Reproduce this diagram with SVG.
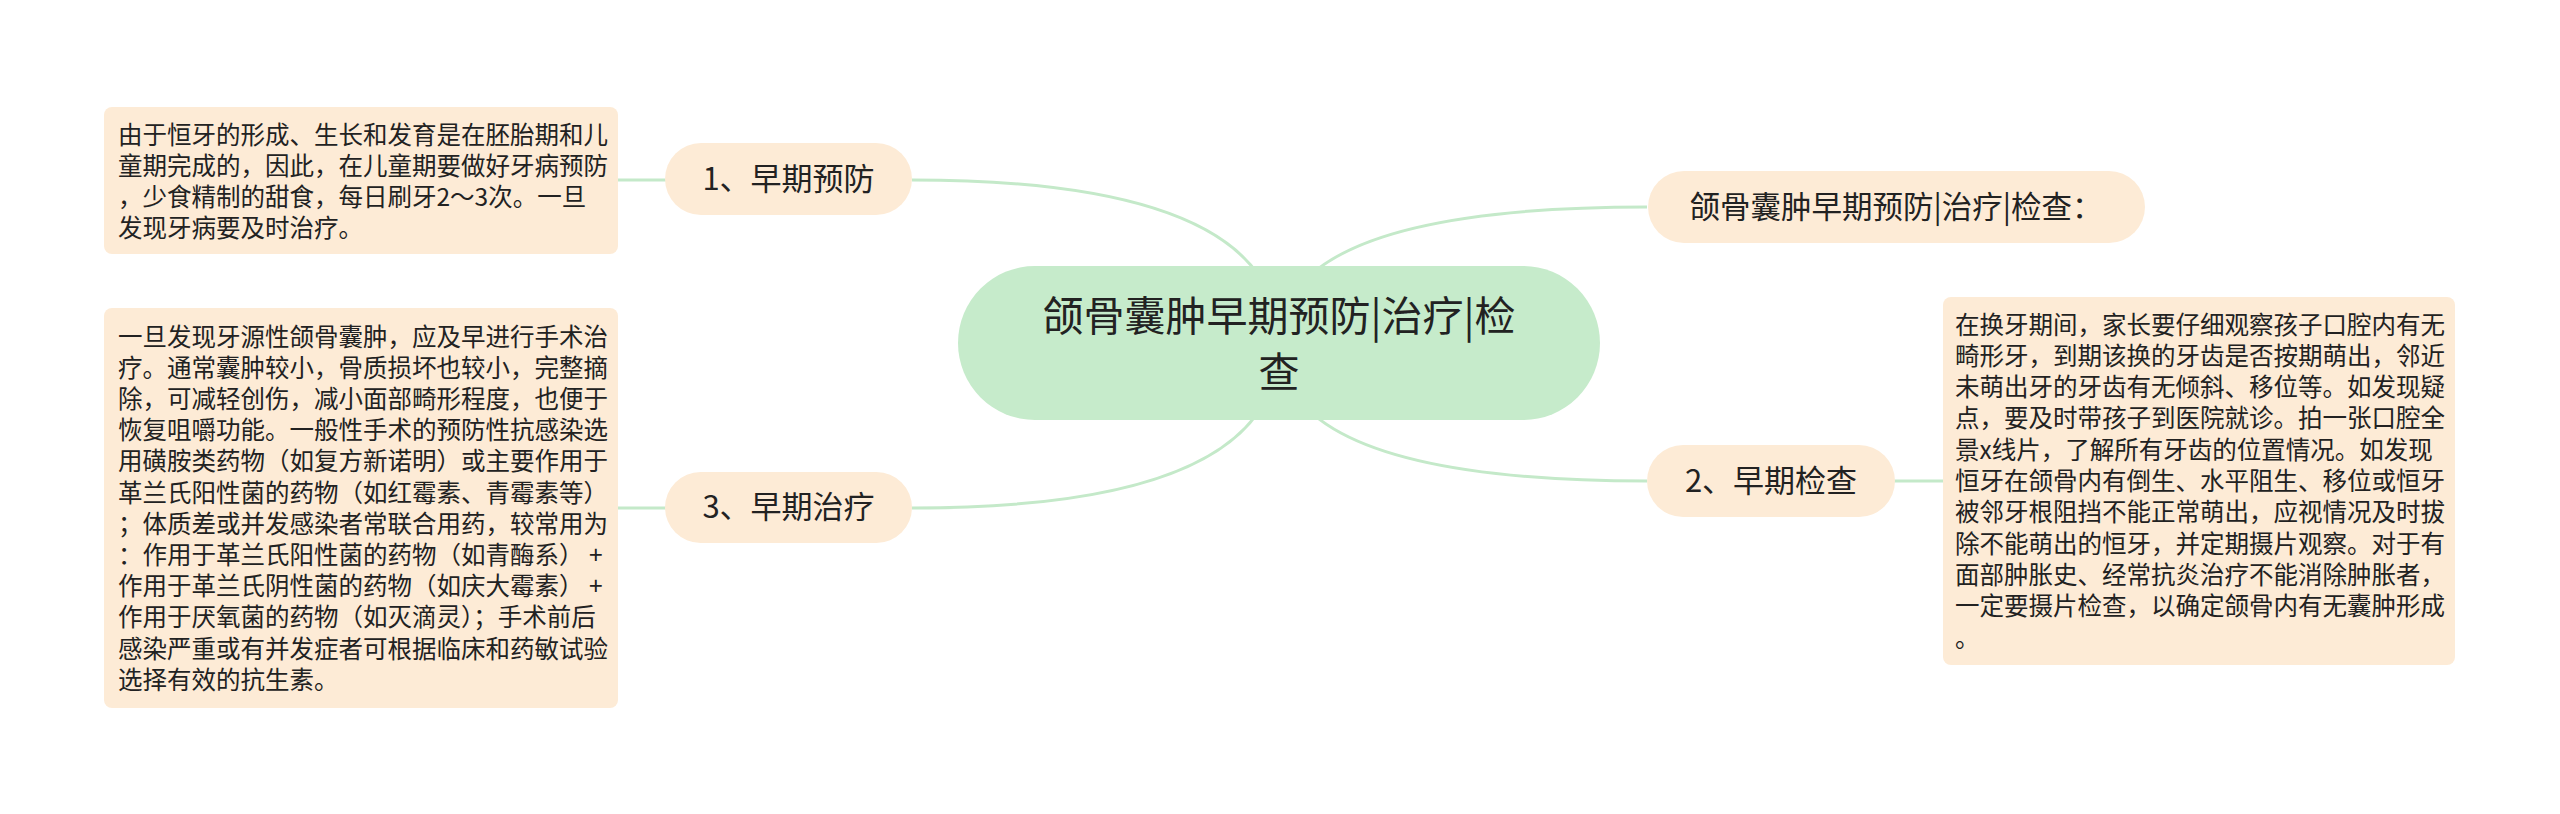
<svg xmlns="http://www.w3.org/2000/svg" width="2560" height="814" viewBox="0 0 2560 814">
<style>
.t{font-family:"Noto Sans CJK SC","Liberation Sans",sans-serif;fill:#222;}
.box{fill:#fdebd6;}
.c{fill:#c6ebcb;}
.p{font-size:24.5px;}
.n{font-size:31px;text-anchor:middle;}
.m{font-size:41px;text-anchor:middle;}
.ln{fill:none;stroke:#c4e9c9;stroke-width:3;}
</style>
<rect width="2560" height="814" fill="#ffffff"/>
<g id="connectors">
<path class="ln" d="M1279 343 Q1279 180 912 180"/>
<path class="ln" d="M1279 343 Q1279 207 1647 207"/>
<path class="ln" d="M1279 343 Q1279 481 1647 481"/>
<path class="ln" d="M1279 343 Q1279 508 912 508"/>
<path class="ln" d="M618 180 L666 180"/>
<path class="ln" d="M618 508 L666 508"/>
<path class="ln" d="M1894 481 L1944 481"/>
</g>
<g id="center">
<rect class="c" x="958" y="266" width="642" height="154" rx="77"/>
<text class="t m" x="1279" y="331">颌骨囊肿早期预防|治疗|检</text>
<text class="t m" x="1279" y="387">查</text>
</g>
<g id="node1">
<rect class="box" x="665" y="143" width="247" height="72" rx="36"/>
<text class="t n" x="788.5" y="190">1、早期预防</text>
</g>
<g id="node3">
<rect class="box" x="665" y="472" width="247" height="71" rx="35.5"/>
<text class="t n" x="788.5" y="518">3、早期治疗</text>
</g>
<g id="node2">
<rect class="box" x="1647" y="445" width="248" height="72" rx="36"/>
<text class="t n" x="1771" y="492">2、早期检查</text>
</g>
<g id="nodeTitle">
<rect class="box" x="1648" y="171" width="497" height="72" rx="36"/>
<text class="t n" x="1896" y="218" style="font-size:30.5px">颌骨囊肿早期预防|治疗|检查：</text>
</g>
<g id="box1">
<rect class="box" x="104" y="107" width="514" height="147" rx="8"/>
<text class="t p" x="118" y="144">由于恒牙的形成、生长和发育是在胚胎期和儿</text>
<text class="t p" x="118" y="175">童期完成的，因此，在儿童期要做好牙病预防</text>
<text class="t p" x="118" y="206">，少食精制的甜食，每日刷牙2～3次。一旦</text>
<text class="t p" x="118" y="237">发现牙病要及时治疗。</text>
</g>
<g id="box3">
<rect class="box" x="104" y="308" width="514" height="400" rx="8"/>
<text class="t p" x="118" y="345.5">一旦发现牙源性颌骨囊肿，应及早进行手术治</text>
<text class="t p" x="118" y="376.7">疗。通常囊肿较小，骨质损坏也较小，完整摘</text>
<text class="t p" x="118" y="407.9">除，可减轻创伤，减小面部畸形程度，也便于</text>
<text class="t p" x="118" y="439.1">恢复咀嚼功能。一般性手术的预防性抗感染选</text>
<text class="t p" x="118" y="470.3">用磺胺类药物（如复方新诺明）或主要作用于</text>
<text class="t p" x="118" y="501.5">革兰氏阳性菌的药物（如红霉素、青霉素等）</text>
<text class="t p" x="118" y="532.7">；体质差或并发感染者常联合用药，较常用为</text>
<text class="t p" x="118" y="563.9">：作用于革兰氏阳性菌的药物（如青酶系） +</text>
<text class="t p" x="118" y="595.1">作用于革兰氏阴性菌的药物（如庆大霉素） +</text>
<text class="t p" x="118" y="626.3">作用于厌氧菌的药物（如灭滴灵）；手术前后</text>
<text class="t p" x="118" y="657.5">感染严重或有并发症者可根据临床和药敏试验</text>
<text class="t p" x="118" y="688.7">选择有效的抗生素。</text>
</g>
<g id="box2">
<rect class="box" x="1943" y="297" width="512" height="368" rx="8"/>
<text class="t p" x="1955" y="333.5">在换牙期间，家长要仔细观察孩子口腔内有无</text>
<text class="t p" x="1955" y="364.8">畸形牙，到期该换的牙齿是否按期萌出，邻近</text>
<text class="t p" x="1955" y="396.1">未萌出牙的牙齿有无倾斜、移位等。如发现疑</text>
<text class="t p" x="1955" y="427.4">点，要及时带孩子到医院就诊。拍一张口腔全</text>
<text class="t p" x="1955" y="458.7">景x线片，了解所有牙齿的位置情况。如发现</text>
<text class="t p" x="1955" y="490">恒牙在颌骨内有倒生、水平阻生、移位或恒牙</text>
<text class="t p" x="1955" y="521.3">被邻牙根阻挡不能正常萌出，应视情况及时拔</text>
<text class="t p" x="1955" y="552.6">除不能萌出的恒牙，并定期摄片观察。对于有</text>
<text class="t p" x="1955" y="583.9">面部肿胀史、经常抗炎治疗不能消除肿胀者，</text>
<text class="t p" x="1955" y="615.2">一定要摄片检查，以确定颌骨内有无囊肿形成</text>
<text class="t p" x="1955" y="646.5">。</text>
</g>
</svg>
